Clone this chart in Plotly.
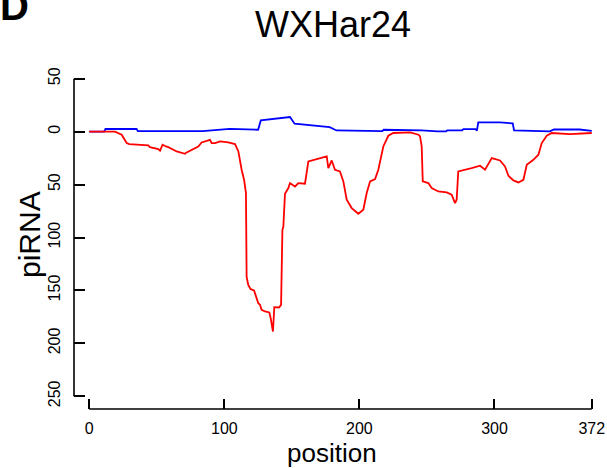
import plotly.graph_objects as go

# ---- data ----
red_pos = [0, 19, 24, 27.7, 29.6, 43.7, 44.9, 51.1, 52.4, 54.3, 56.8, 58.5, 64.7, 70.9, 72.1,
           75.8, 78.3, 80.7, 83.2, 85.7, 89.4, 90.6, 93.1, 96.8, 102.9, 107.9, 110.4, 112.8,
           114.6, 116, 116.5, 117.7, 119.5, 122, 123.2, 125.1, 126.4, 127.6, 130.1, 133.3,
           134.3, 136, 137, 140.5, 142, 143, 143.7, 144.9, 147.4, 148.6, 152.3, 154.8, 159.7,
           162.2, 168.4, 175.8, 177, 179.5, 181.9, 185.6, 188.1, 190.6, 194.3, 199.2, 202.9,
           205.4, 207.9, 211.6, 214, 217.7, 221.4, 225.1, 237.5, 243.7, 244.9, 246.1, 246.9,
           251, 253.5, 258.4, 264.6, 268.3, 270.8, 272, 273.2, 279.4, 283.1, 289.3, 293, 298,
           304.1, 307.8, 310.3, 314, 317.7, 321.4, 323.9, 328.8, 332.5, 335, 338.7, 342.4,
           355.9, 372]
red_val = [0, 0, -3, -10.8, -11.8, -13.0, -14.6, -16.5, -18.0, -12.4, -14.0, -14.6, -18.7, -20.9,
           -19.6, -17.1, -15.5, -14.0, -10.2, -9.2, -7.7, -10.8, -10.8, -9.2, -10.2, -11.8, -18.7,
           -36, -45.4, -58, -137, -144.7, -148.8, -150, -155, -162, -163.6, -168.3, -169.9,
           -170.8, -176.1, -188.8, -165.8, -166.1, -163.6, -92.7, -89.6, -58.7, -53.3, -48.6,
           -51.8, -48.6, -49.2, -28.1, -25.9, -23.4, -34.4, -27.2, -36, -37.6, -47, -64.3,
           -72.2, -77.6, -73.8, -58, -47, -44.8, -36, -14, -3.9, -1.3, -0.7, -2.9, -4.5, -14,
           -47, -48.6, -53.3, -56.5, -57.4, -59.6, -67.5, -64.3, -37.6, -36, -34.4, -32.2, -36,
           -25, -27.2, -32.9, -41.7, -46.1, -48, -45.5, -31.3, -26.6, -21.8, -10.8, -3.9, -1.3,
           -2.3, -1.3]

blue_pos = [0, 11, 12, 35, 36, 84, 104, 125, 127, 148.6, 152, 178, 183, 217, 218, 245, 246,
            258, 264, 265, 276, 277, 286, 287, 288, 304, 313.5, 314.5, 341, 344, 363, 372]
blue_val = [0, 0, 2.5, 2.5, 0.5, 0.5, 2.7, 1.8, 10.6, 13.8, 7.5, 4.3, 1.1, 0.5, 1.8, 1.8, 1.1,
            0.2, 0.2, 1.1, 1.1, 2.4, 2.4, 1.0, 8.7, 8.7, 7.8, 1.1, 0.2, 2.0, 2.0, 0.8]

x_ticks = [0, 100, 200, 300, 372]
y_ticks = [50, 0, -50, -100, -150, -200, -250]
y_tick_text = ["50", "0", "50", "100", "150", "200", "250"]

title_text = "WXHar24"
x_title = "position"
y_title = "piRNA"
panel_label = "D"

FONT = "Liberation Sans, Arial, Helvetica, sans-serif"
W, H = 607, 468
L, R, T, B = 74, 0, 66, 59
pw, ph = W - L - R, H - T - B


def px_x(p):
    return (p - L) / pw


def px_y(p):
    return (H - B - p) / ph


fig = go.Figure()
fig.add_trace(go.Scatter(x=blue_pos, y=blue_val, mode="lines",
                         line=dict(color="#0000FF", width=1.8), showlegend=False))
fig.add_trace(go.Scatter(x=red_pos, y=red_val, mode="lines",
                         line=dict(color="#FF0000", width=1.8), showlegend=False))

axis_common = dict(showgrid=False, zeroline=False, showline=False, ticks="inside",
                   tickcolor="black", tickwidth=1.6, tickfont=dict(family=FONT, size=16, color="black"))

fig.update_layout(
    width=W, height=H,
    margin=dict(l=L, r=R, t=T, b=B),
    plot_bgcolor="white", paper_bgcolor="white",
    xaxis=dict(range=[-11.3, 383.3], tickvals=x_ticks, ticklen=10, ticklabelstandoff=8,
               **axis_common),
    yaxis=dict(range=[-262, 62], tickvals=y_ticks, ticktext=y_tick_text, ticklen=11,
               tickangle=-90, ticklabelstandoff=10, **axis_common),
    shapes=[
        dict(type="line", xref="x", yref="paper", x0=x_ticks[0], x1=x_ticks[-1], y0=0, y1=0,
             line=dict(color="black", width=1.6)),
        dict(type="line", xref="paper", yref="y", x0=0, x1=0, y0=y_ticks[-1], y1=y_ticks[0],
             line=dict(color="black", width=1.6)),
    ],
    annotations=[
        dict(text=title_text, xref="paper", yref="paper", x=px_x(332.5), y=px_y(24),
             xanchor="center", yanchor="middle", showarrow=False,
             font=dict(family=FONT, size=36, color="black")),
        dict(text=x_title, xref="paper", yref="paper", x=px_x(332), y=px_y(453),
             xanchor="center", yanchor="middle", showarrow=False,
             font=dict(family=FONT, size=26, color="black")),
        dict(text=y_title, xref="paper", yref="paper", x=px_x(29), y=px_y(235),
             xanchor="center", yanchor="middle", showarrow=False, textangle=-90,
             font=dict(family=FONT, size=30, color="black")),
        dict(text="<b>" + panel_label + "</b>", xref="paper", yref="paper", x=px_x(31), y=px_y(6),
             xanchor="right", yanchor="middle", showarrow=False,
             font=dict(family=FONT, size=40, color="black")),
    ],
)

fig.write_html("out.html", config={"displayModeBar": False},
               post_script="document.body.style.margin='0';document.body.style.overflow='hidden';")
